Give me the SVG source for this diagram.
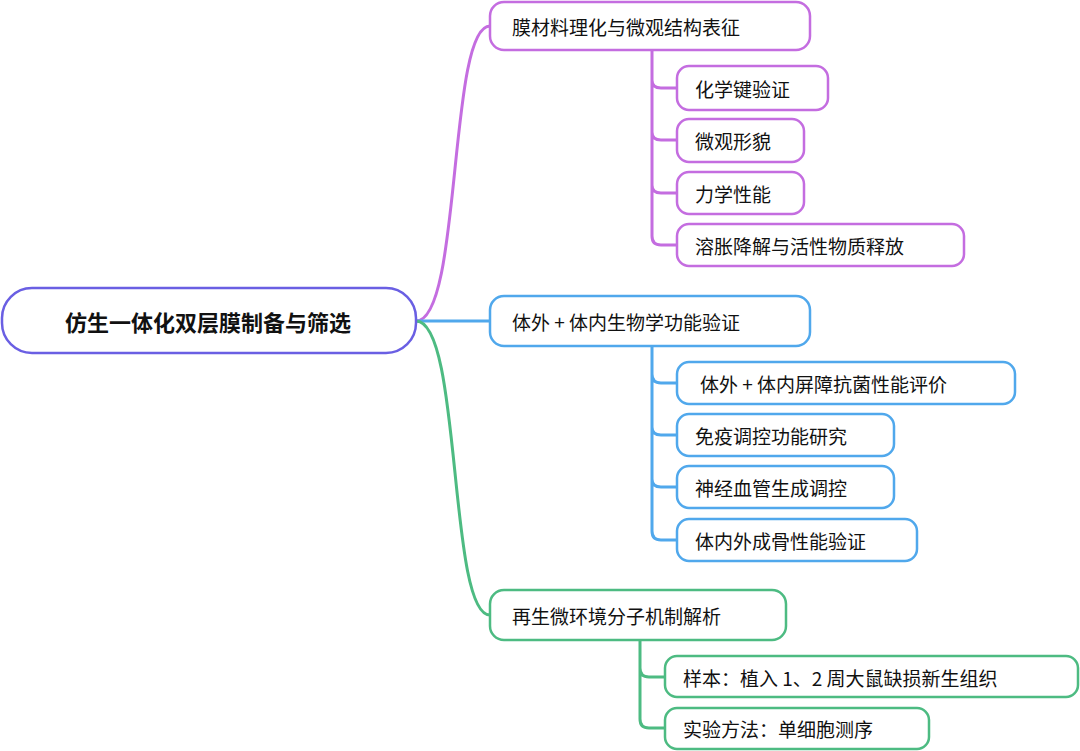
<svg xmlns="http://www.w3.org/2000/svg" width="1080" height="751" viewBox="0 0 1080 751">
<style>
text{font-family:"Noto Sans CJK SC","Noto Sans",sans-serif;fill:#111;dominant-baseline:central}
.n{fill:#fff;stroke-width:2.5}
.p{stroke:#c46de0}.b{stroke:#50a8ec}.g{stroke:#4dbb82}
.c{fill:none;stroke-width:3}
.t{font-size:19px}
</style>
<rect width="1080" height="751" fill="#fff"/>
<g id="connectors">
<path class="c p" d="M416 321 C462 321 448 26 490 26"/>
<path class="c b" d="M416 321 H490"/>
<path class="c g" d="M416 321 C462 321 448 615 490 615"/>
<path class="c p" d="M652 50 V236 Q652 245 661 245 H677 M652 80 Q652 88 661 88 H677 M652 132 Q652 140 661 140 H677 M652 185 Q652 193 661 193 H677"/>
<path class="c b" d="M652 346 V531 Q652 540 661 540 H677 M652 374 Q652 383 661 383 H677 M652 427 Q652 435 661 435 H677 M652 479 Q652 487 661 487 H677"/>
<path class="c g" d="M640 640 V719 Q640 728 649 728 H665 M640 668 Q640 677 649 677 H665"/>
</g>
<g id="root"><rect class="n" x="2" y="288" width="414" height="65" rx="30" stroke="#6a5fe3"/><text x="208" y="321" text-anchor="middle" font-size="22" font-weight="bold">仿生一体化双层膜制备与筛选</text></g>
<g id="b1"><rect class="n p" x="490" y="2" width="320" height="48" rx="14"/><text class="t" x="512" y="26">膜材料理化与微观结构表征</text></g>
<g id="b1c1"><rect class="n p" x="677" y="66" width="151" height="44" rx="12"/><text class="t" x="695" y="88">化学键验证</text></g>
<g id="b1c2"><rect class="n p" x="677" y="119" width="127" height="43" rx="12"/><text class="t" x="695" y="140">微观形貌</text></g>
<g id="b1c3"><rect class="n p" x="677" y="172" width="127" height="42" rx="12"/><text class="t" x="695" y="193">力学性能</text></g>
<g id="b1c4"><rect class="n p" x="677" y="224" width="287" height="42" rx="12"/><text class="t" x="695" y="245">溶胀降解与活性物质释放</text></g>
<g id="b2"><rect class="n b" x="490" y="296" width="320" height="50" rx="14"/><text class="t" x="512" y="321">体外 + 体内生物学功能验证</text></g>
<g id="b2c1"><rect class="n b" x="677" y="362" width="338" height="42" rx="12"/><text class="t" x="700" y="383">体外 + 体内屏障抗菌性能评价</text></g>
<g id="b2c2"><rect class="n b" x="677" y="414" width="217" height="42" rx="12"/><text class="t" x="695" y="435">免疫调控功能研究</text></g>
<g id="b2c3"><rect class="n b" x="677" y="466" width="217" height="42" rx="12"/><text class="t" x="695" y="487">神经血管生成调控</text></g>
<g id="b2c4"><rect class="n b" x="677" y="519" width="240" height="42" rx="12"/><text class="t" x="695" y="540">体内外成骨性能验证</text></g>
<g id="b3"><rect class="n g" x="490" y="590" width="296" height="50" rx="14"/><text class="t" x="512" y="615">再生微环境分子机制解析</text></g>
<g id="b3c1"><rect class="n g" x="665" y="656" width="413" height="41" rx="12"/><text class="t" x="683" y="677">样本：植入 1、2 周大鼠缺损新生组织</text></g>
<g id="b3c2"><rect class="n g" x="665" y="708" width="264" height="41" rx="12"/><text class="t" x="683" y="728">实验方法：单细胞测序</text></g>
</svg>
